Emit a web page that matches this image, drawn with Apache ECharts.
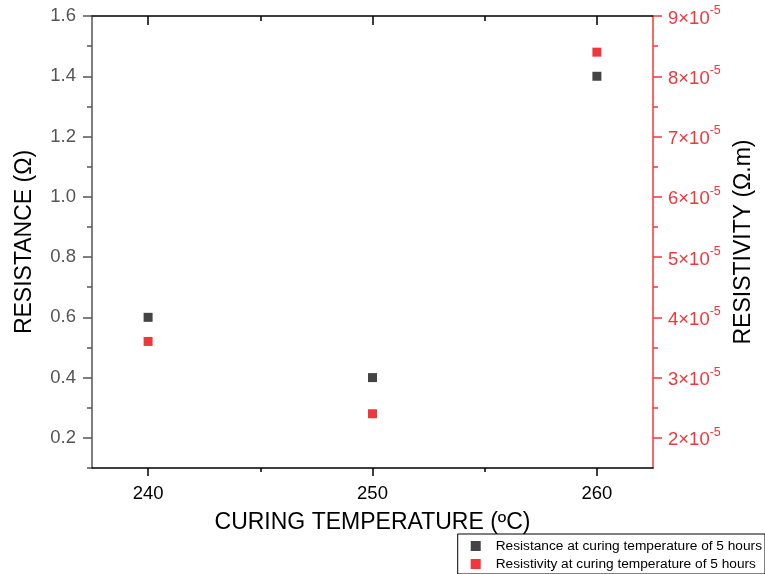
<!DOCTYPE html>
<html><head><meta charset="utf-8">
<script src="https://cdn.jsdelivr.net/npm/echarts@6/dist/echarts.min.js"></script>
<style>html,body{margin:0;padding:0;background:#fff}#c{width:765px;height:574px}</style>
</head><body><div id="c"></div>
<script>
const temperatures = [240, 250, 260];
const resistance = [0.6, 0.4, 1.4];
const resistivity = [3.6e-5, 2.4e-5, 8.4e-5];
const xLabels = [240, 250, 260];
const xMinor = [245, 255];
const leftLabels = [0.2, 0.4, 0.6, 0.8, 1.0, 1.2, 1.4, 1.6];
const leftMinor = [0.1, 0.3, 0.5, 0.7, 0.9, 1.1, 1.3, 1.5];
const rightLabels = [2e-5, 3e-5, 4e-5, 5e-5, 6e-5, 7e-5, 8e-5, 9e-5];
const rightMinor = [2.5e-5, 3.5e-5, 4.5e-5, 5.5e-5, 6.5e-5, 7.5e-5, 8.5e-5];

const FONT = '"Liberation Sans", Arial, sans-serif';
const RED = '#f0383c';
const GRAYM = '#444444';
const X_MIN = 237.5, X_MAX = 262.5;
const L_MIN = 0.1, L_MAX = 1.6;
const R_MIN = 1.5e-5, R_MAX = 9e-5;

const chart = echarts.init(document.getElementById('c'), null, {renderer: 'canvas'});
const noLbl = {show: false};
chart.setOption({
  animation: false,
  backgroundColor: '#fff',
  grid: {left: 92, right: 112, top: 16, bottom: 106, containLabel: false},
  legend: {
    orient: 'vertical', right: 0, bottom: 0,
    backgroundColor: '#fff', borderColor: '#000', borderWidth: 1,
    padding: [5, 3, 3, 13], itemGap: 4, itemWidth: 10, itemHeight: 10,
    icon: 'rect',
    itemStyle: {opacity: 1},
    textStyle: {fontFamily: FONT, fontSize: 13.7, color: '#000', padding: [0, 0, 0, 10]},
    data: ['Resistance at curing temperature of 5 hours', 'Resistivity at curing temperature of 5 hours']
  },
  xAxis: [
    {type: 'value', position: 'bottom', min: X_MIN, max: X_MAX,
     name: 'CURING TEMPERATURE (ºC)', nameLocation: 'middle', nameGap: 43,
     nameTextStyle: {fontFamily: FONT, fontSize: 23, color: '#000'},
     axisLine: {show: true, lineStyle: {color: '#000', width: 1.5}},
     axisTick: {show: true, length: 8, customValues: xLabels, lineStyle: {color: '#000', width: 1.5}},
     axisLabel: {show: true, customValues: xLabels, margin: 16, fontFamily: FONT, fontSize: 18.5, color: '#000'},
     splitLine: {show: false}},
    {type: 'value', position: 'bottom', min: X_MIN, max: X_MAX,
     axisLine: {show: false}, axisLabel: noLbl, splitLine: {show: false},
     axisTick: {show: true, length: 4, customValues: xMinor, lineStyle: {color: '#000', width: 1.5}}},
    {type: 'value', position: 'top', min: X_MIN, max: X_MAX,
     axisLine: {show: true, lineStyle: {color: '#000', width: 1.5}}, axisLabel: noLbl, splitLine: {show: false},
     axisTick: {show: true, inside: true, length: 9, customValues: xLabels, lineStyle: {color: '#000', width: 1.5}}},
    {type: 'value', position: 'top', min: X_MIN, max: X_MAX,
     axisLine: {show: false}, axisLabel: noLbl, splitLine: {show: false},
     axisTick: {show: true, inside: true, length: 5, customValues: xMinor, lineStyle: {color: '#000', width: 1.5}}}
  ],
  yAxis: [
    {type: 'value', position: 'left', min: L_MIN, max: L_MAX,
     name: 'RESISTANCE (Ω)', nameLocation: 'middle', nameGap: 56, nameRotate: 90,
     nameTextStyle: {fontFamily: FONT, fontSize: 23, color: '#000'},
     axisLine: {show: true, lineStyle: {color: '#555', width: 1.5}},
     axisTick: {show: true, length: 9, customValues: leftLabels, lineStyle: {color: '#555', width: 1.5}},
     axisLabel: {show: true, customValues: leftLabels, margin: 16, fontFamily: FONT, fontSize: 18.5, color: '#555',
       formatter: v => v.toFixed(1)},
     splitLine: {show: false}},
    {type: 'value', position: 'left', min: L_MIN, max: L_MAX,
     axisLine: {show: false}, axisLabel: noLbl, splitLine: {show: false},
     axisTick: {show: true, length: 5, customValues: leftMinor, lineStyle: {color: '#555', width: 1.5}}},
    {type: 'value', position: 'right', min: R_MIN, max: R_MAX,
     name: 'RESISTIVITY (Ω.m)', nameLocation: 'middle', nameGap: 78, nameRotate: 90,
     nameTextStyle: {fontFamily: FONT, fontSize: 23, color: '#000'},
     axisLine: {show: true, lineStyle: {color: RED, width: 1.5}},
     axisTick: {show: true, length: 9, customValues: rightLabels, lineStyle: {color: RED, width: 1.5}},
     axisLabel: {show: true, customValues: rightLabels, margin: 15, fontFamily: FONT, color: RED,
       formatter: v => '{b|' + Math.round(v * 1e5) + '×10}{s|-5}',
       rich: {
         b: {fontFamily: FONT, fontSize: 18.5, color: RED, lineHeight: 24, verticalAlign: 'bottom'},
         s: {fontFamily: FONT, fontSize: 12.5, color: RED, lineHeight: 12, verticalAlign: 'top'}
       }},
     splitLine: {show: false}},
    {type: 'value', position: 'right', min: R_MIN, max: R_MAX,
     axisLine: {show: false}, axisLabel: noLbl, splitLine: {show: false},
     axisTick: {show: true, length: 5, customValues: rightMinor, lineStyle: {color: RED, width: 1.5}}}
  ],
  series: [
    {name: 'Resistance at curing temperature of 5 hours', type: 'scatter', xAxisIndex: 0, yAxisIndex: 0,
     symbol: 'rect', symbolSize: 9, itemStyle: {color: GRAYM, opacity: 1},
     data: temperatures.map((t, i) => [t, resistance[i]])},
    {name: 'Resistivity at curing temperature of 5 hours', type: 'scatter', xAxisIndex: 0, yAxisIndex: 2,
     symbol: 'rect', symbolSize: 9, itemStyle: {color: RED, opacity: 1},
     data: temperatures.map((t, i) => [t, resistivity[i]])}
  ]
});
</script></body></html>
